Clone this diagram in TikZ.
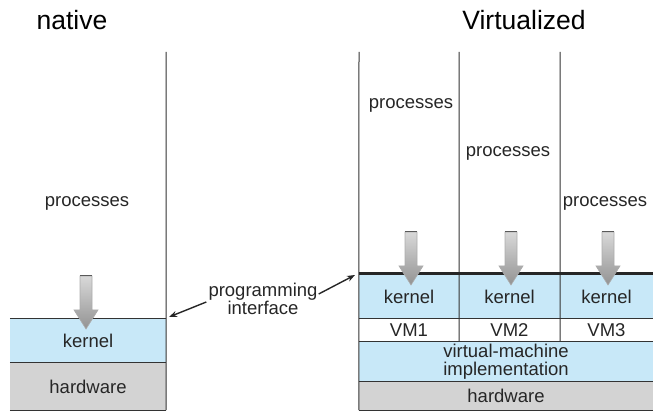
\documentclass[tikz,border=0pt]{standalone}
\usepackage{fontspec}
\setmainfont{Liberation Sans}
\usetikzlibrary{arrows.meta}

\definecolor{kernelblue}{HTML}{C8E8F8}
\definecolor{hwgray}{HTML}{D3D3D3}
\definecolor{txtgray}{HTML}{262626}

\tikzset{
    lbl/.style={font=\fontsize{18.5}{21}\selectfont, text=txtgray, inner sep=0pt, align=center},
    ttl/.style={font=\fontsize{26.5}{30}\selectfont, inner sep=0pt},
    layer/.style={fill=#1, inner sep=0pt, font=\fontsize{18.5}{21}\selectfont, text=txtgray, align=center},
    edge/.style={line width=1pt, black!80},
    apiarrow/.style={-{Stealth[length=8pt,width=6pt]}, line width=1.4pt, black!85},
    downarrow/.pic={
        \shade[top color=gray!30, bottom color=gray!85, draw=gray!65, line width=0.6pt]
            (-6,0) -- (6,0) -- (6,34) -- (12,34) -- (0,53) -- (-12,34) -- (-6,34) -- cycle;
        \draw[gray!70!black, line width=1pt] (-6,0) -- (6,0);
    }
}

\begin{document}
\begin{tikzpicture}[x=1pt, y=-1pt]
    \useasboundingbox (0,0) rectangle (658,419);

    % titulos
    \node[ttl] (ntitle) at (72,20)  {native};
    \node[ttl] (vtitle) at (524,20) {Virtualized};

    % ---- native ----
    \node[layer=kernelblue, minimum width=156pt, minimum height=44pt] (nkernel) at (88,341) {kernel};
    \node[layer=hwgray, minimum width=156pt, minimum height=47pt]     (nhw)     at (88,386.5) {hardware};
    \node[lbl] (nproc) at (87,203) {processes};

    \draw[edge] (166,52) -- (nhw.south east);
    \draw[edge] (nkernel.north west) -- (nkernel.north east);
    \draw[edge] (nhw.north west) -- (nhw.north east);
    \draw[edge] (nhw.south west) -- (nhw.south east);

    \pic at (86,276) {downarrow};

    % ---- virtualized ----
    \node[layer=kernelblue, minimum width=100pt, minimum height=46pt] (k1) at (409,297)   {kernel};
    \node[layer=kernelblue, minimum width=101pt, minimum height=46pt] (k2) at (509.5,297) {kernel};
    \node[layer=kernelblue, minimum width=93pt,  minimum height=46pt] (k3) at (606.5,297) {kernel};
    \node[layer=white, minimum width=100pt, minimum height=22pt] (vm1) at (409,330)   {VM1};
    \node[layer=white, minimum width=101pt, minimum height=22pt] (vm2) at (509.5,330) {VM2};
    \node[layer=white, minimum width=93pt,  minimum height=22pt] (vm3) at (606.5,330) {VM3};
    \node[layer=kernelblue, minimum width=294pt, minimum height=41pt] (vmm) at (506,361.5) {virtual-machine\\[-3pt]implementation};
    \node[layer=hwgray, minimum width=294pt, minimum height=28pt]     (vhw) at (506,396)   {hardware};

    \node[lbl] (p1) at (411,105) {processes};
    \node[lbl] (p2) at (508,153) {processes};
    \node[lbl] (p3) at (605,203) {processes};

    % lineas verticales
    \draw[edge] (359,52) -- (vhw.south west);
    \draw[edge] (459,52) -- (vm1.south east);
    \draw[edge] (560,52) -- (vm2.south east);

    % separaciones horizontales
    \draw[edge] (vm1.north west) -- (vm3.north east);
    \draw[edge] (vm1.south west) -- (vm3.south east);
    \draw[edge] (vhw.north west) -- (vhw.north east);
    \draw[edge] (vhw.south west) -- (vhw.south east);

    % interfaz (linea gruesa)
    \draw[line width=3pt, black!85] (k1.north west) -- (k3.north east);

    \pic at (411,232) {downarrow};
    \pic at (511,232) {downarrow};
    \pic at (608,232) {downarrow};

    % interfaz de programacion
    \node[lbl] (api) at (263,299) {programming\\[-3pt]interface};
    \coordinate (ntop) at (169,317);
    \coordinate (vtop) at (355,275);
    \draw[apiarrow] ([xshift=-2pt,yshift=-3pt]api.west) -- (ntop);
    \draw[apiarrow] ([xshift=1pt,yshift=5pt]api.east) -- (vtop);
\end{tikzpicture}
\end{document}
